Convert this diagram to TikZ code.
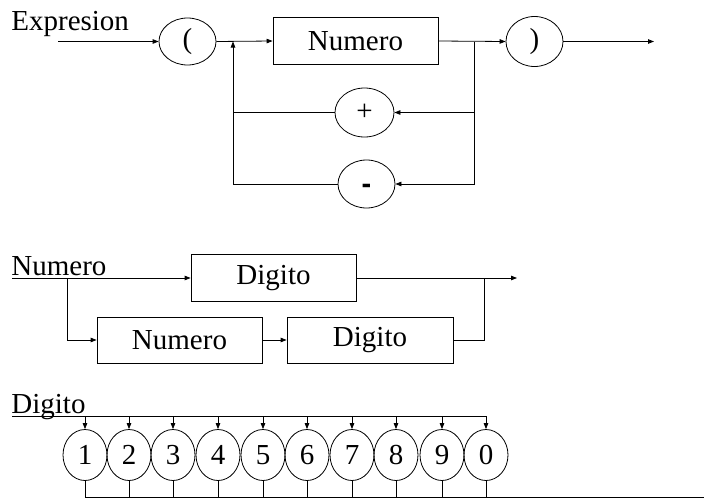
\documentclass[tikz,border=0pt]{standalone}
\usepackage{fontspec}
\setmainfont{Liberation Serif}
\usetikzlibrary{shapes.geometric,arrows.meta}
\begin{document}
\begin{tikzpicture}[x=1pt,y=-1pt,line width=0.8pt,
  arr/.style={-{Triangle[length=6pt,width=4.5pt]}},
  oval/.style={draw,ellipse,inner sep=0pt,font=\fontsize{29}{30}\selectfont},
  boxn/.style={draw,rectangle,inner sep=0pt,font=\fontsize{29}{30}\selectfont},
  lbl/.style={inner sep=0pt,anchor=base west,font=\fontsize{29}{30}\selectfont}]
\useasboundingbox (0,0) rectangle (704,501);
% ---------- Expresion ----------
\node[lbl] (lexp) at (11,30) {Expresion};
\coordinate (ein) at (58,41.5);
\node[oval,minimum width=57pt,minimum height=47pt] (lp) at (187.5,41.5) {(};
\coordinate (j1) at (233,41.5);
\node[boxn,minimum width=165pt,minimum height=47pt] (num) at (355.5,41) {Numero};
\coordinate (j2) at (474,41.5);
\node[oval,minimum width=57pt,minimum height=50pt] (rp) at (534.5,41.5) {)};
\coordinate (eout) at (654,41.5);
\node[oval,minimum width=59pt,minimum height=49pt] (plus) at (364.5,112.5) {+};
\node[oval,minimum width=57pt,minimum height=48pt] (minus) at (366.5,184) {\smash{\raisebox{-9pt}{\fontspec{Liberation Sans}\bfseries -}}};
\draw[arr] (ein) -- (lp.west);
\draw[arr] (lp.east) -- (num.west);
\draw[arr] (num.east) -- (rp.west);
\draw[arr] (rp.east) -- (eout);
\draw[arr] (j2) -- (j2 |- plus) -- (plus.east);
\draw[arr] (j2) -- (j2 |- minus) -- (minus.east);
\draw (plus.west) -- (j1 |- plus);
\draw[arr] (minus.west) -- (j1 |- minus) -- (j1);
% ---------- Numero ----------
\node[lbl] (lnum) at (11,275) {Numero};
\coordinate (nin) at (12,278);
\coordinate (j4) at (67,278);
\node[boxn,minimum width=165pt,minimum height=47pt] (d1) at (273.5,278) {Digito};
\coordinate (j3) at (484,278);
\coordinate (nout) at (517,278);
\node[boxn,minimum width=165pt,minimum height=46pt] (n2) at (179.5,340) {Numero};
\node[boxn,minimum width=166pt,minimum height=46pt] (d2) at (370,340) {Digito};
\draw[arr] (nin) -- (d1.west);
\draw[arr] (d1.east) -- (nout);
\draw[arr] (j4) -- (j4 |- n2) -- (n2.west);
\draw[arr] (n2) -- (d2);
\draw (d2.east) -- (j3 |- d2) -- (j3);
% ---------- Digito ----------
\node[lbl] (ldig) at (11,413) {Digito};
\coordinate (din) at (12,416);
\foreach \x/\d [count=\i] in {85/1,129/2,173/3,218/4,263/5,307/6,352/7,396/8,442/9,486/0}{
  \node[oval,minimum width=44pt,minimum height=51pt] (c\i) at (\x,455) {\d};
  \coordinate (t\i) at (\x,416);
  \coordinate (b\i) at (\x,497);
  \draw[arr] (t\i) -- (c\i.north);
  \draw (c\i.south) -- (b\i);
}
\coordinate (dout) at (704,497);
\draw (din) -- (t10);
\draw (b1) -- (dout);
\end{tikzpicture}
\end{document}
